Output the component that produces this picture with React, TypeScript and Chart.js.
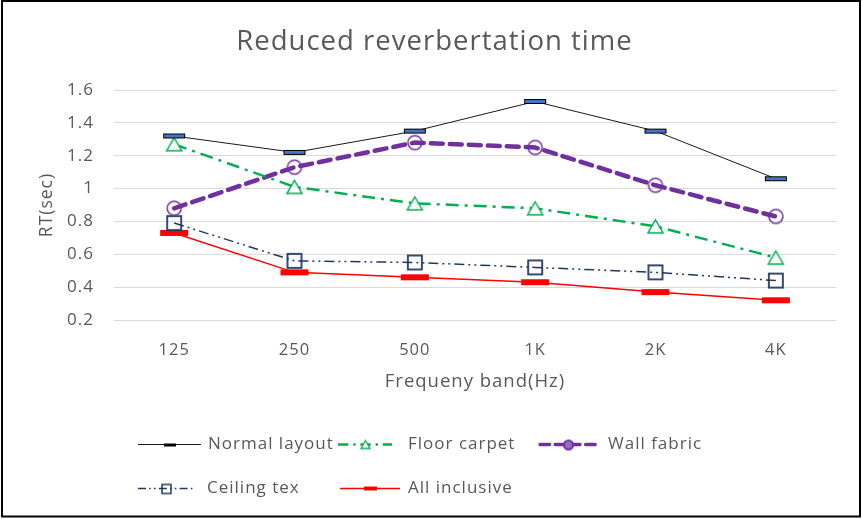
import React, { useEffect, useRef } from "react";
import { Chart, registerables } from "chart.js";

Chart.register(...registerables);

const categories = ["125", "250", "500", "1K", "2K", "4K"];
const normalLayout = [1.32, 1.22, 1.35, 1.53, 1.35, 1.06];
const floorCarpet = [1.27, 1.01, 0.91, 0.88, 0.77, 0.58];
const wallFabric = [0.88, 1.13, 1.28, 1.25, 1.02, 0.83];
const ceilingTex = [0.79, 0.56, 0.55, 0.52, 0.49, 0.44];
const allInclusive = [0.73, 0.49, 0.46, 0.43, 0.37, 0.32];
const seriesLabels = ["Normal layout", "Floor carpet", "Wall fabric", "Ceiling tex", "All inclusive"];
const yTicks = [0.2, 0.4, 0.6, 0.8, 1, 1.2, 1.4, 1.6];
const titleText = "Reduced reverbertation time";
const xTitle = "Frequeny band(Hz)";
const yTitle = "RT(sec)";

const FONT = "'Open Sans', 'DejaVu Sans', sans-serif";
const TEXT = "#595959";

function mk(w: number, h: number, draw: (c: CanvasRenderingContext2D) => void) {
  const cv = document.createElement("canvas");
  cv.width = w;
  cv.height = h;
  const c = cv.getContext("2d")!;
  draw(c);
  return cv;
}

function rectMarker(w: number, h: number, fill: string, stroke: string | null) {
  return mk(w + 2, h + 2, (c) => {
    c.fillStyle = fill;
    c.fillRect(1, 1, w, h);
    if (stroke) {
      c.strokeStyle = stroke;
      c.lineWidth = 1;
      c.strokeRect(1.5, 1.5, w - 1, h - 1);
    }
  });
}
function triMarker(s: number, color: string, lw: number) {
  const h = Math.round(s * 0.87);
  return mk(s + 4, h + 4, (c) => {
    c.strokeStyle = color;
    c.fillStyle = "#ffffff";
    c.lineWidth = lw;
    c.beginPath();
    c.moveTo(2 + s / 2, 2);
    c.lineTo(2 + s, 2 + h);
    c.lineTo(2, 2 + h);
    c.closePath();
    c.fill();
    c.stroke();
  });
}
function circMarker(d: number, color: string, lw: number, fill: string | null) {
  return mk(d + 4, d + 4, (c) => {
    c.strokeStyle = color;
    c.lineWidth = lw;
    c.beginPath();
    c.arc(2 + d / 2, 2 + d / 2, d / 2, 0, Math.PI * 2);
    if (fill) {
      c.fillStyle = fill;
      c.fill();
    }
    c.stroke();
  });
}
function sqMarker(s: number, color: string, lw: number) {
  return mk(s + 4, s + 4, (c) => {
    c.strokeStyle = color;
    c.lineWidth = lw;
    c.strokeRect(2, 2, s, s);
  });
}

export default function App() {
  const ref = useRef<HTMLCanvasElement | null>(null);

  useEffect(() => {
    if (!ref.current) return;
    const colors = ["#1a1a1a", "#00B050", "#7030A0", "#203864", "#FF0000"];
    const widths = [1, 2.5, 4.5, 1.5, 1.5];
    const dashes: number[][] = [[], [13, 6, 3, 6], [12, 7], [10, 4, 2, 4, 2, 4], []];
    const caps: CanvasLineCap[] = ["butt", "butt", "round", "butt", "butt"];
    const markers = [
      rectMarker(22, 5, "#4472C4", "#000000"),
      triMarker(15, "#00B050", 1.5),
      circMarker(14, "#7030A0", 1.5, null),
      sqMarker(14, "#203864", 1.8),
      rectMarker(28, 6, "#FF0000", null),
    ];
    const legendMarkers = [
      rectMarker(12, 3, "#000000", null),
      triMarker(9, "#00B050", 1.3),
      circMarker(9, "#7030A0", 2, "#9a6cc0"),
      sqMarker(9, "#203864", 1.5),
      rectMarker(13, 4, "#FF0000", null),
    ];
    const values = [normalLayout, floorCarpet, wallFabric, ceilingTex, allInclusive];

    const legendPos = [
      { x: 138, y: 444, w: 63, tx: 208 },
      { x: 338, y: 444, w: 54, tx: 408 },
      { x: 540, y: 444, w: 57, tx: 608 },
      { x: 138, y: 488, w: 57, tx: 207 },
      { x: 340, y: 488, w: 60, tx: 408 },
    ];

    const setSpacing = (chart: any) => {
      (chart.ctx as any).letterSpacing = "1px";
    };

    const framePlugin = {
      id: "frame",
      beforeLayout(chart: any) {
        setSpacing(chart);
      },
      beforeDraw(chart: any) {
        const c = chart.ctx;
        setSpacing(chart);
        c.save();
        c.fillStyle = "#ffffff";
        c.fillRect(0, 0, chart.width, chart.height);
        c.restore();
      },
      afterDraw(chart: any) {
        const c = chart.ctx as CanvasRenderingContext2D;
        c.save();
        chart.data.datasets.forEach((ds: any, i: number) => {
          const p = legendPos[i];
          c.strokeStyle = colors[i];
          c.lineWidth = Math.min(widths[i], 3.5);
          c.lineCap = caps[i];
          c.setLineDash(dashes[i].map((d) => d * 0.8));
          c.beginPath();
          c.moveTo(p.x, p.y + 0.5);
          c.lineTo(p.x + p.w, p.y + 0.5);
          c.stroke();
          c.setLineDash([]);
          const m = legendMarkers[i];
          c.drawImage(m, Math.round(p.x + p.w / 2 - m.width / 2), Math.round(p.y - m.height / 2) + 0.5);
          c.fillStyle = TEXT;
          c.font = `17px ${FONT}`;
          (c as any).letterSpacing = "1px";
          c.textBaseline = "middle";
          c.textAlign = "left";
          c.fillText(ds.label, p.tx, p.y);
        });
        c.strokeStyle = "#000000";
        c.lineWidth = 2;
        c.strokeRect(2, 1, 858, 515.5);
        c.restore();
      },
    };

    const chart = new Chart(ref.current, {
      type: "line",
      data: {
        labels: categories,
        datasets: values.map((v, i) => ({
          label: seriesLabels[i],
          data: v,
          borderColor: colors[i],
          backgroundColor: colors[i],
          borderWidth: widths[i],
          borderDash: dashes[i],
          borderCapStyle: caps[i],
          pointStyle: markers[i] as any,
          pointRadius: 7,
          tension: 0,
          fill: false,
        })),
      },
      options: {
        animation: false,
        responsive: false,
        maintainAspectRatio: false,
        layout: { padding: { left: 33, right: 26, top: 0, bottom: 122 } },
        plugins: {
          legend: { display: false },
          tooltip: { enabled: false },
          title: {
            display: true,
            text: titleText,
            color: TEXT,
            font: { family: FONT, size: 27.5, weight: "normal" },
            padding: { top: 26, bottom: 31 },
          },
        },
        scales: {
          x: {
            offset: true,
            grid: { display: false, drawTicks: false },
            border: { display: false },
            ticks: { color: TEXT, font: { family: FONT, size: 16.5 }, padding: 20 },
            title: { display: true, text: xTitle, color: TEXT, font: { family: FONT, size: 18.5 } },
            afterFit: (s: any) => {
              s.height = 77;
            },
          },
          y: {
            min: yTicks[0],
            max: yTicks[yTicks.length - 1],
            afterBuildTicks: (s: any) => {
              s.ticks = yTicks.map((v) => ({ value: v }));
            },
            grid: { color: "#d9d9d9", lineWidth: 1, drawTicks: false },
            border: { display: false },
            ticks: {
              color: TEXT,
              font: { family: FONT, size: 17 },
              padding: 20,
              callback: (v: any) => String(Math.round(Number(v) * 10) / 10),
            },
            title: { display: true, text: yTitle, color: TEXT, font: { family: FONT, size: 17.5 } },
            afterFit: (s: any) => {
              s.width = 81;
            },
          },
        },
      },
      plugins: [framePlugin],
    });
    return () => chart.destroy();
  }, []);

  return (
    <div style={{ position: "fixed", left: 0, top: 0, width: 862, height: 519 }}>
      <canvas ref={ref} width={862} height={519} style={{ width: 862, height: 519, display: "block" }} />
    </div>
  );
}
